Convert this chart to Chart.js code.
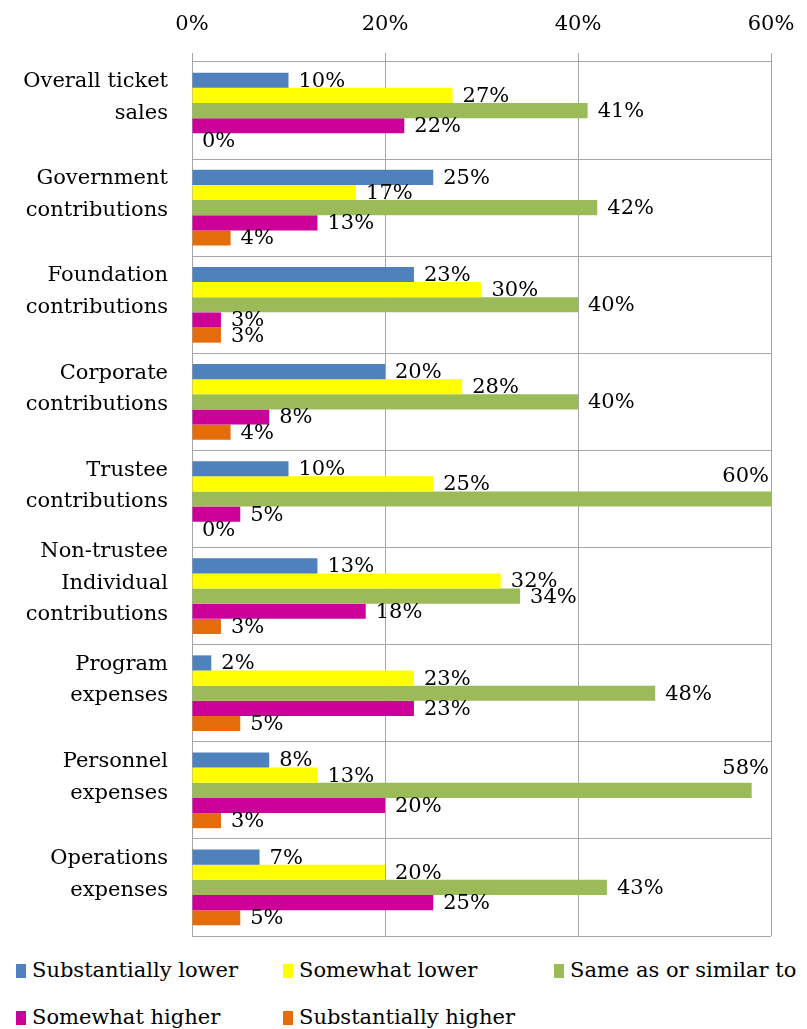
<!DOCTYPE html>
<html>
<head>
<meta charset="utf-8">
<script src="https://cdn.jsdelivr.net/npm/chart.js@4/dist/chart.umd.min.js"></script>
<style>
  html, body { margin: 0; padding: 0; background: #fff; }
  #wrap { position: relative; width: 807px; height: 1029px; overflow: hidden; }
  #chart { position: absolute; left: 0; top: 0; }
  .legend-item {
    position: absolute;
    display: flex;
    align-items: center;
    font-family: 'DejaVu Serif', serif;
    font-size: 21px;
    color: #000;
    white-space: nowrap;
    line-height: 1;
  }
  .legend-item span.box { display: inline-block; width: 10px; height: 14px; margin-right: 6px; }
</style>
</head>
<body>
<div id="wrap">
  <canvas id="chart" width="807" height="942"></canvas>
  <div id="legend"></div>
</div>
<script>
document.addEventListener("DOMContentLoaded", function () {
    // Categories (one row of bars each)
    const categories = [
        ["Overall ticket", "sales"],
        ["Government", "contributions"],
        ["Foundation", "contributions"],
        ["Corporate", "contributions"],
        ["Trustee", "contributions"],
        ["Non-trustee", "Individual", "contributions"],
        ["Program", "expenses"],
        ["Personnel", "expenses"],
        ["Operations", "expenses"]
    ];

    // Share of responses per category (%)
    const substantiallyLower  = [10, 25, 23, 20, 10, 13,  2,  8,  7];
    const somewhatLower       = [27, 17, 30, 28, 25, 32, 23, 13, 20];
    const sameAsOrSimilar     = [41, 42, 40, 40, 60, 34, 48, 58, 43];
    const somewhatHigher      = [22, 13,  3,  8,  5, 18, 23, 20, 25];
    const substantiallyHigher = [ 0,  4,  3,  4,  0,  3,  5,  3,  5];

    const xTicks = [0, 20, 40, 60];

    const series = [
        { label: "Substantially lower", data: substantiallyLower, color: "#4F81BD" },
        { label: "Somewhat lower", data: somewhatLower, color: "#FFFF00" },
        { label: "Same as or similar to", data: sameAsOrSimilar, color: "#9BBB59" },
        { label: "Somewhat higher", data: somewhatHigher, color: "#CC0099" },
        { label: "Substantially higher", data: substantiallyHigher, color: "#E46C0A" }
    ];

    const fontFamily = "'DejaVu Serif', serif";
    Chart.defaults.font.family = fontFamily;
    Chart.defaults.font.size = 21;
    Chart.defaults.color = "#000";

    // Value labels to the right of each bar; a label that would run past
    // the plot edge is pulled inside and lifted above the bar end.
    const valueLabels = {
        id: "valueLabels",
        afterDatasetsDraw(chart) {
            const ctx = chart.ctx;
            const area = chart.chartArea;
            ctx.save();
            ctx.font = "21px " + fontFamily;
            ctx.fillStyle = "#000";
            ctx.textBaseline = "middle";
            ctx.textAlign = "left";
            chart.data.datasets.forEach((ds, i) => {
                const meta = chart.getDatasetMeta(i);
                meta.data.forEach((bar, j) => {
                    const text = ds.data[j] + "%";
                    const w = ctx.measureText(text).width;
                    if (bar.x + 10 + w > area.right + 4) {
                        ctx.fillText(text, area.right - w - 2, bar.y - 22);
                    } else {
                        ctx.fillText(text, bar.x + 10, bar.y + 1);
                    }
                });
            });
            ctx.restore();
        }
    };

    const gridColor = "#A6A6A6";

    new Chart(document.getElementById("chart").getContext("2d"), {
        type: "bar",
        data: {
            labels: categories,
            datasets: series.map((s) => ({
                label: s.label,
                data: s.data,
                backgroundColor: s.color,
                borderWidth: 0,
                categoryPercentage: 0.78,
                barPercentage: 1.0
            }))
        },
        options: {
            indexAxis: "y",
            responsive: false,
            animation: false,
            layout: { padding: { left: 0, right: 36, top: 0, bottom: 6 } },
            plugins: {
                legend: { display: false },
                tooltip: { enabled: false }
            },
            scales: {
                x: {
                    position: "top",
                    min: 0,
                    max: 60,
                    afterBuildTicks: (scale) => {
                        scale.ticks = xTicks.map((v) => ({ value: v }));
                    },
                    afterFit: (scale) => {
                        scale.height = 62;
                        scale.paddingLeft = 0;
                        scale.paddingRight = 0;
                    },
                    ticks: {
                        padding: 16,
                        callback: (v) => v + "%"
                    },
                    grid: { color: gridColor, lineWidth: 1, tickLength: 9 },
                    border: { display: false }
                },
                y: {
                    afterFit: (scale) => {
                        scale.width = 192;
                        scale.paddingTop = 0;
                        scale.paddingBottom = 0;
                    },
                    ticks: {
                        autoSkip: false,
                        padding: 24,
                        labelOffset: -13,
                        font: { lineHeight: 1.5 }
                    },
                    grid: { color: gridColor, lineWidth: 1, drawTicks: false, offset: true },
                    border: { color: gridColor, width: 1 }
                }
            }
        },
        plugins: [valueLabels]
    });

    // Legend laid out in fixed columns under the plot
    const legendSlots = [
        { left: 16, top: 960 }, { left: 283, top: 960 }, { left: 554, top: 960 },
        { left: 16, top: 1007 }, { left: 283, top: 1007 }
    ];
    const legend = document.getElementById("legend");
    series.forEach((s, i) => {
        const item = document.createElement("div");
        item.className = "legend-item";
        item.style.left = legendSlots[i].left + "px";
        item.style.top = legendSlots[i].top + "px";
        const box = document.createElement("span");
        box.className = "box";
        box.style.background = s.color;
        item.appendChild(box);
        item.appendChild(document.createTextNode(s.label));
        legend.appendChild(item);
    });
});
</script>
</body>
</html>
